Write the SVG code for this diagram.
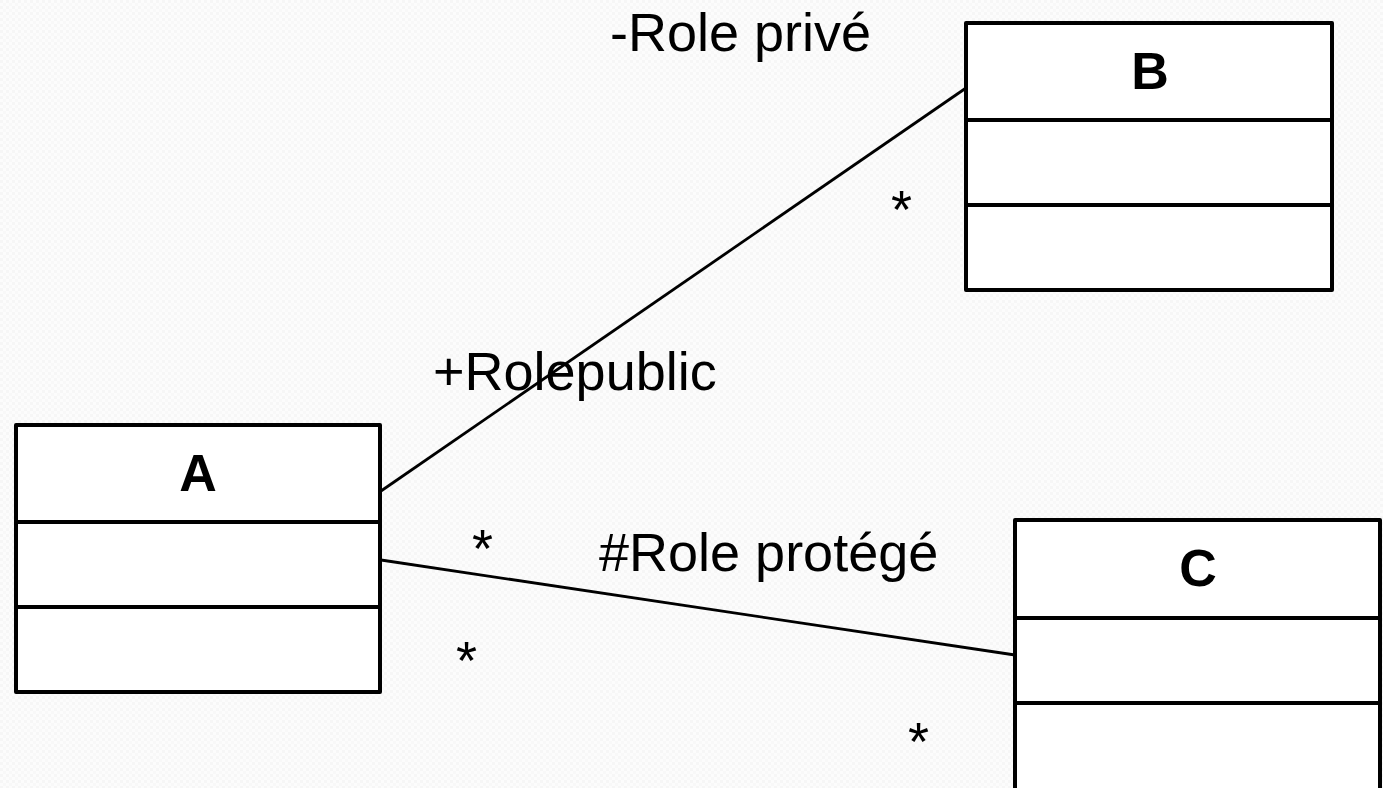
<svg xmlns="http://www.w3.org/2000/svg" width="1383" height="788" viewBox="0 0 1383 788">
  <defs>
    <!-- faint woven paper texture -->
    <pattern id="paper" width="6" height="6" patternUnits="userSpaceOnUse">
      <rect width="6" height="6" fill="#fcfcfc"/>
      <rect x="0" y="0" width="3" height="3" fill="#f6f6f6"/>
      <rect x="3" y="3" width="3" height="3" fill="#f8f8f8"/>
    </pattern>
  </defs>
  <style>
    .box { fill: #ffffff; stroke: #000000; stroke-width: 4; stroke-linejoin: round; }
    .div { stroke: #000000; stroke-width: 4; }
    .title { font-family: "Liberation Sans", Arial, sans-serif; font-weight: bold; font-size: 52px; fill: #000; text-anchor: middle; }
    .lbl { font-family: "Liberation Sans", Arial, sans-serif; font-size: 54px; fill: #000; }
    .assoc { stroke: #000000; stroke-width: 2.8; fill: none; }
  </style>

  <rect width="1383" height="788" fill="url(#paper)"/>

  <!-- associations -->
  <g id="connectors">
    <line class="assoc" x1="381" y1="491" x2="966" y2="88"/>
    <line class="assoc" x1="381" y1="560" x2="1015" y2="655"/>
  </g>

  <!-- class B -->
  <g id="class-B">
    <rect class="box" x="966" y="23" width="366" height="267"/>
    <line class="div" x1="966" y1="120" x2="1332" y2="120"/>
    <line class="div" x1="966" y1="205" x2="1332" y2="205"/>
    <text class="title" x="1150" y="89">B</text>
  </g>

  <!-- class A -->
  <g id="class-A">
    <rect class="box" x="16" y="425" width="364" height="267"/>
    <line class="div" x1="16" y1="522" x2="380" y2="522"/>
    <line class="div" x1="16" y1="607" x2="380" y2="607"/>
    <text class="title" x="198" y="491">A</text>
  </g>

  <!-- class C -->
  <g id="class-C">
    <rect class="box" x="1015" y="520" width="365" height="280"/>
    <line class="div" x1="1015" y1="618" x2="1380" y2="618"/>
    <line class="div" x1="1015" y1="703" x2="1380" y2="703"/>
    <text class="title" x="1198" y="586">C</text>
  </g>

  <!-- role names and multiplicities -->
  <g id="labels">
    <text class="lbl" x="610" y="51">-Role privé</text>
    <text class="lbl" x="433" y="390">+Rolepublic</text>
    <text class="lbl" x="599" y="571">#Role protégé</text>
    <text class="lbl" x="891" y="228">*</text>
    <text class="lbl" x="472" y="567">*</text>
    <text class="lbl" x="456" y="679">*</text>
    <text class="lbl" x="908" y="760">*</text>
  </g>
</svg>
